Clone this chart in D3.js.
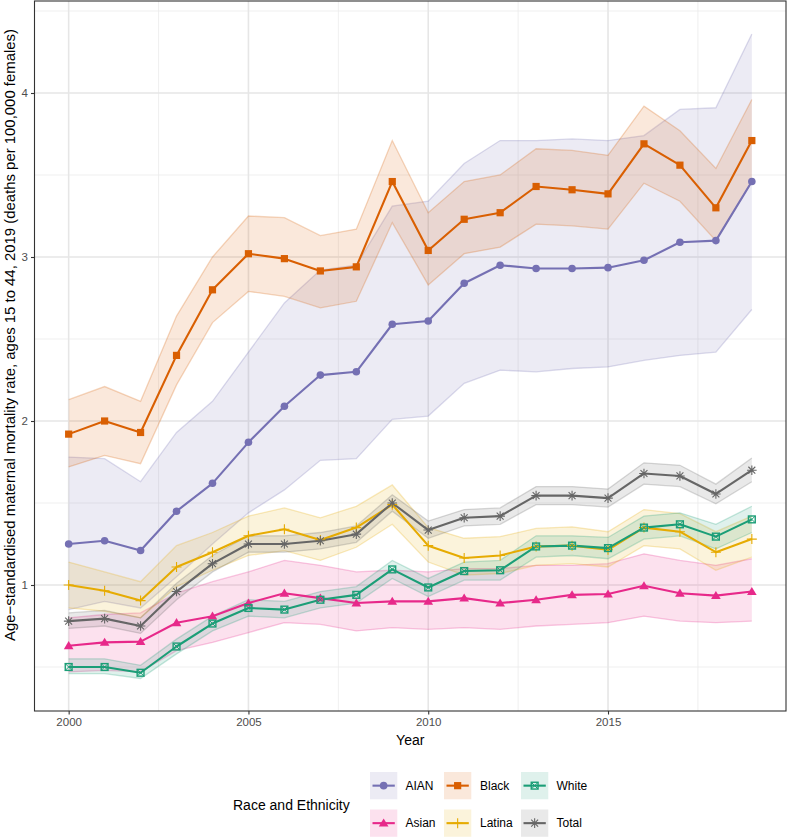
<!DOCTYPE html>
<html>
<head>
<meta charset="utf-8">
<script src="https://cdn.jsdelivr.net/npm/d3@7"></script>
<style>
  html, body { margin: 0; padding: 0; background: #fff; }
  svg { display: block; font-family: "Liberation Sans", Arial, sans-serif; }
</style>
</head>
<body>
<svg id="chart" width="787" height="839"></svg>
<script>
// ---------------- DATA ----------------
const years = [2000,2001,2002,2003,2004,2005,2006,2007,2008,2009,2010,2011,2012,2013,2014,2015,2016,2017,2018,2019];

const groups = ["AIAN", "Asian", "Black", "Latina", "White", "Total"];

const aianVal   = [1.25,1.27,1.21,1.45,1.62,1.87,2.09,2.28,2.30,2.59,2.61,2.84,2.95,2.93,2.93,2.935,2.98,3.09,3.10,3.46];
const aianLow   = [0.85,0.90,0.86,1.05,1.25,1.44,1.58,1.76,1.77,2.01,2.03,2.23,2.31,2.30,2.32,2.33,2.37,2.40,2.42,2.68];
const aianHigh  = [1.78,1.77,1.63,1.93,2.12,2.42,2.72,2.92,2.95,3.31,3.34,3.57,3.71,3.71,3.72,3.71,3.74,3.90,3.91,4.36];

const asianVal  = [0.63,0.65,0.655,0.77,0.81,0.89,0.95,0.92,0.89,0.90,0.90,0.92,0.89,0.91,0.94,0.945,0.995,0.95,0.935,0.96];
const asianLow  = [0.47,0.48,0.47,0.60,0.65,0.71,0.77,0.76,0.72,0.74,0.73,0.74,0.73,0.75,0.76,0.77,0.81,0.78,0.77,0.78];
const asianHigh = [0.80,0.82,0.83,0.95,1.02,1.08,1.15,1.12,1.08,1.09,1.08,1.10,1.10,1.12,1.12,1.13,1.19,1.15,1.12,1.16];

const blackVal  = [1.92,2.00,1.93,2.40,2.80,3.02,2.99,2.915,2.94,3.46,3.04,3.23,3.27,3.43,3.41,3.385,3.69,3.56,3.30,3.71];
const blackLow  = [1.72,1.79,1.74,2.22,2.60,2.79,2.76,2.69,2.73,3.21,2.83,3.02,3.06,3.20,3.19,3.17,3.45,3.34,3.10,3.46];
const blackHigh = [2.13,2.21,2.12,2.64,3.00,3.25,3.24,3.13,3.17,3.71,3.27,3.46,3.50,3.66,3.65,3.62,3.92,3.77,3.54,3.96];

const latinaVal  = [1.00,0.965,0.905,1.11,1.20,1.30,1.34,1.275,1.35,1.49,1.24,1.165,1.18,1.235,1.24,1.215,1.35,1.325,1.20,1.28];
const latinaLow  = [0.86,0.84,0.80,0.99,1.09,1.18,1.21,1.15,1.23,1.37,1.14,1.06,1.07,1.12,1.13,1.11,1.24,1.22,1.09,1.17];
const latinaHigh = [1.14,1.08,1.02,1.24,1.32,1.42,1.47,1.41,1.48,1.61,1.35,1.285,1.295,1.345,1.355,1.325,1.46,1.435,1.325,1.42];

const whiteVal  = [0.50,0.50,0.465,0.625,0.765,0.86,0.85,0.91,0.94,1.095,0.985,1.085,1.09,1.235,1.24,1.225,1.35,1.37,1.295,1.40];
const whiteLow  = [0.46,0.46,0.43,0.58,0.72,0.81,0.80,0.86,0.89,1.04,0.93,1.03,1.03,1.17,1.18,1.16,1.28,1.30,1.22,1.32];
const whiteHigh = [0.55,0.55,0.51,0.67,0.81,0.91,0.90,0.96,0.99,1.15,1.04,1.14,1.15,1.30,1.30,1.29,1.42,1.44,1.37,1.48];

const totalVal  = [0.78,0.795,0.75,0.96,1.13,1.25,1.25,1.27,1.31,1.50,1.335,1.41,1.42,1.545,1.545,1.53,1.68,1.665,1.555,1.70];
const totalLow  = [0.735,0.75,0.705,0.91,1.08,1.20,1.20,1.22,1.26,1.45,1.285,1.36,1.37,1.49,1.49,1.475,1.615,1.60,1.495,1.63];
const totalHigh = [0.83,0.845,0.80,1.01,1.18,1.30,1.30,1.32,1.36,1.55,1.39,1.46,1.47,1.60,1.60,1.585,1.745,1.73,1.615,1.775];

const xTicks = [2000, 2005, 2010, 2015];
const xMinor = [2002.5, 2007.5, 2012.5, 2017.5];
const yTicks = [1, 2, 3, 4];
const yMinor = [0.5, 1.5, 2.5, 3.5, 4.5];

const colors = { AIAN: "#7570B3", Asian: "#E7298A", Black: "#D95F02", Latina: "#E6AB02", White: "#1B9E77", Total: "#666666" };
const shapes = { AIAN: "circle", Asian: "triangle", Black: "square", Latina: "plus", White: "squarecross", Total: "asterisk" };

const seriesData = {
  AIAN:   { val: aianVal,   lo: aianLow,   hi: aianHigh },
  Asian:  { val: asianVal,  lo: asianLow,  hi: asianHigh },
  Black:  { val: blackVal,  lo: blackLow,  hi: blackHigh },
  Latina: { val: latinaVal, lo: latinaLow, hi: latinaHigh },
  White:  { val: whiteVal,  lo: whiteLow,  hi: whiteHigh },
  Total:  { val: totalVal,  lo: totalLow,  hi: totalHigh }
};

// ---------------- LAYOUT ----------------
const svg = d3.select("#chart");
const panel = { left: 34.5, right: 786, top: 1, bottom: 711 };

const x = d3.scaleLinear().domain([2000 - 0.95, 2019 + 0.95]).range([panel.left, panel.right]);
const y = d3.scaleLinear().domain([0.2317, 4.561]).range([panel.bottom, panel.top]);

// background grid
const grid = svg.append("g");
grid.selectAll(".ymin").data(yMinor).join("line")
  .attr("x1", panel.left).attr("x2", panel.right)
  .attr("y1", d => y(d)).attr("y2", d => y(d))
  .attr("stroke", "#EBEBEB").attr("stroke-width", 0.8);
grid.selectAll(".xmin").data(xMinor).join("line")
  .attr("y1", panel.top).attr("y2", panel.bottom)
  .attr("x1", d => x(d)).attr("x2", d => x(d))
  .attr("stroke", "#EBEBEB").attr("stroke-width", 0.8);
grid.selectAll(".ymaj").data(yTicks).join("line")
  .attr("x1", panel.left).attr("x2", panel.right)
  .attr("y1", d => y(d)).attr("y2", d => y(d))
  .attr("stroke", "#E6E6E6").attr("stroke-width", 1.6);
grid.selectAll(".xmaj").data(xTicks).join("line")
  .attr("y1", panel.top).attr("y2", panel.bottom)
  .attr("x1", d => x(d)).attr("x2", d => x(d))
  .attr("stroke", "#E6E6E6").attr("stroke-width", 1.6);

// ribbons
const area = d3.area()
  .x((d) => x(d.year)).y0(d => y(d.lo)).y1(d => y(d.hi));
const lineLo = d3.line().x(d => x(d.year)).y(d => y(d.lo));
const lineHi = d3.line().x(d => x(d.year)).y(d => y(d.hi));
const lineVal = d3.line().x(d => x(d.year)).y(d => y(d.val));

function rows(g) {
  const s = seriesData[g];
  return years.map((yr, i) => ({ year: yr, val: s.val[i], lo: s.lo[i], hi: s.hi[i] }));
}

const ribbons = svg.append("g");
groups.forEach(g => {
  const r = rows(g);
  ribbons.append("path").datum(r).attr("d", area)
    .attr("fill", colors[g]).attr("fill-opacity", 0.14).attr("stroke", "none");
  ribbons.append("path").datum(r).attr("d", lineLo)
    .attr("fill", "none").attr("stroke", colors[g]).attr("stroke-opacity", 0.25).attr("stroke-width", 1.3);
  ribbons.append("path").datum(r).attr("d", lineHi)
    .attr("fill", "none").attr("stroke", colors[g]).attr("stroke-opacity", 0.25).attr("stroke-width", 1.3);
});

// lines
const lines = svg.append("g");
groups.forEach(g => {
  lines.append("path").datum(rows(g)).attr("d", lineVal)
    .attr("fill", "none").attr("stroke", colors[g]).attr("stroke-width", 2.1)
    .attr("stroke-linejoin", "round");
});

// point shapes
function drawShape(sel, shape, cx, cy, color, s) {
  const r = s;
  if (shape === "circle") {
    sel.append("circle").attr("cx", cx).attr("cy", cy).attr("r", r * 0.95).attr("fill", color);
  } else if (shape === "square") {
    sel.append("rect").attr("x", cx - r * 0.9).attr("y", cy - r * 0.9)
      .attr("width", r * 1.8).attr("height", r * 1.8).attr("fill", color);
  } else if (shape === "triangle") {
    const h = r * 1.15;
    sel.append("path").attr("d", `M${cx},${cy - h}L${cx + h * 1.05},${cy + h * 0.75}L${cx - h * 1.05},${cy + h * 0.75}Z`).attr("fill", color);
  } else if (shape === "plus") {
    const a = r * 1.25;
    sel.append("path").attr("d", `M${cx - a},${cy}H${cx + a}M${cx},${cy - a}V${cy + a}`)
      .attr("stroke", color).attr("stroke-width", 1.1).attr("fill", "none");
  } else if (shape === "asterisk") {
    const a = r * 1.2, b = a * 0.72;
    sel.append("path").attr("d",
      `M${cx - a},${cy}H${cx + a}M${cx},${cy - a}V${cy + a}M${cx - b},${cy - b}L${cx + b},${cy + b}M${cx - b},${cy + b}L${cx + b},${cy - b}`)
      .attr("stroke", color).attr("stroke-width", 1.1).attr("fill", "none");
  } else if (shape === "squarecross") {
    const a = r * 0.85;
    sel.append("rect").attr("x", cx - a).attr("y", cy - a).attr("width", 2 * a).attr("height", 2 * a)
      .attr("fill", "none").attr("stroke", color).attr("stroke-width", 1.4);
    sel.append("path").attr("d", `M${cx - a},${cy - a}L${cx + a},${cy + a}M${cx - a},${cy + a}L${cx + a},${cy - a}`)
      .attr("stroke", color).attr("stroke-width", 1);
  }
}

const pts = svg.append("g");
groups.forEach(g => {
  rows(g).forEach(d => drawShape(pts, shapes[g], x(d.year), y(d.val), colors[g], 4));
});

// panel border
svg.append("rect").attr("x", panel.left).attr("y", panel.top)
  .attr("width", panel.right - panel.left).attr("height", panel.bottom - panel.top)
  .attr("fill", "none").attr("stroke", "#333333").attr("stroke-width", 1.1);

// axes
const xAxis = d3.axisBottom(x).tickValues(xTicks).tickFormat(d3.format("d")).tickSize(3.5).tickPadding(3);
const gx = svg.append("g").attr("transform", `translate(0,${panel.bottom})`).call(xAxis);
gx.select(".domain").remove();
gx.selectAll("line").attr("stroke", "#333333").attr("stroke-width", 1.1);
gx.selectAll("text").attr("fill", "#4D4D4D").style("font-size", "11.5px").style("font-family", "Liberation Sans, Arial, sans-serif");

const yAxis = d3.axisLeft(y).tickValues(yTicks).tickFormat(d3.format("d")).tickSize(3.5).tickPadding(3);
const gy = svg.append("g").attr("transform", `translate(${panel.left},0)`).call(yAxis);
gy.select(".domain").remove();
gy.selectAll("line").attr("stroke", "#333333").attr("stroke-width", 1.1);
gy.selectAll("text").attr("fill", "#4D4D4D").style("font-size", "11.5px").style("font-family", "Liberation Sans, Arial, sans-serif");

// axis titles
svg.append("text").attr("x", (panel.left + panel.right) / 2).attr("y", 745)
  .attr("text-anchor", "middle").attr("fill", "#000").style("font-size", "14px").text("Year");

const yTitle = svg.append("text")
  .attr("transform", "translate(14.5,335) rotate(-90)")
  .attr("text-anchor", "middle").attr("fill", "#000").style("font-size", "14px")
  .text("Age\u2212standardised maternal mortality rate, ages 15 to 44, 2019 (deaths per 100,000 females)");
const w0 = yTitle.node().getComputedTextLength();
if (w0 > 0) yTitle.style("font-size", (14 * 612 / w0).toFixed(2) + "px");

// legend
const leg = svg.append("g");
leg.append("text").attr("x", 233).attr("y", 810).attr("fill", "#000").style("font-size", "14px").text("Race and Ethnicity");

const legOrder = [["AIAN", 0, 0], ["Asian", 0, 1], ["Black", 1, 0], ["Latina", 1, 1], ["White", 2, 0], ["Total", 2, 1]];
const colX = [370, 444, 521];
const labX = [405.5, 480, 556.5];
const rowY = [772, 809.5];
legOrder.forEach(([g, c, r]) => {
  const kx = colX[c], ky = rowY[r], ks = 27.3;
  leg.append("rect").attr("x", kx).attr("y", ky).attr("width", ks).attr("height", ks)
    .attr("fill", colors[g]).attr("fill-opacity", 0.14);
  leg.append("line").attr("x1", kx + 2.5).attr("x2", kx + ks - 2.5)
    .attr("y1", ky + ks / 2).attr("y2", ky + ks / 2)
    .attr("stroke", colors[g]).attr("stroke-width", 2.1);
  drawShape(leg, shapes[g], kx + ks / 2, ky + ks / 2, colors[g], 4);
  leg.append("text").attr("x", labX[c]).attr("y", ky + ks / 2 + 4.3)
    .attr("fill", "#000").style("font-size", "12px").text(g);
});
</script>
</body>
</html>
